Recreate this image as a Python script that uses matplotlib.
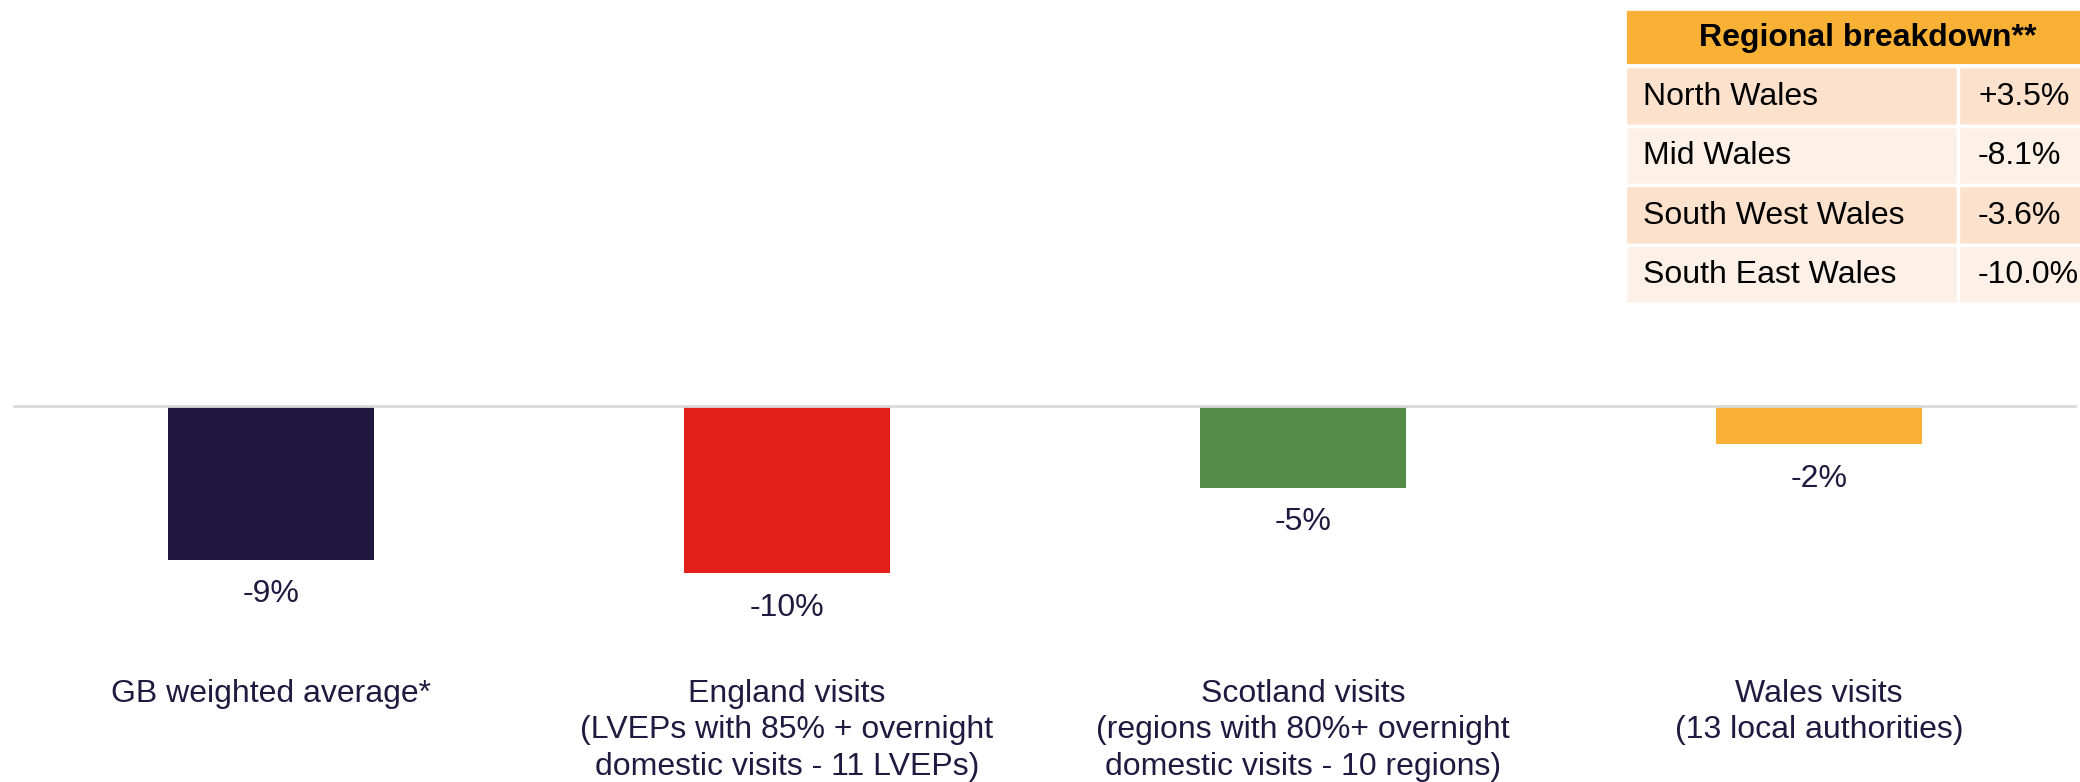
import matplotlib.pyplot as plt
from matplotlib.patches import Rectangle

plt.rcParams['font.family'] = ['Liberation Sans', 'DejaVu Sans']

# data
categories = ['GB weighted average*',
              'England visits\n(LVEPs with 85% + overnight\ndomestic visits - 11 LVEPs)',
              'Scotland visits\n(regions with 80%+ overnight\ndomestic visits - 10 regions)',
              'Wales visits\n(13 local authorities)']
changes = [-9.2, -10.0, -4.9, -2.3]
bar_colors = ['#201840', '#E31F1A', '#548B46', '#F8B135']

regions = ['North Wales', 'Mid Wales', 'South West Wales', 'South East Wales']
region_changes = ['+3.5%', '-8.1%', '-3.6%', '-10.0%']
table_title = 'Regional breakdown**'

W, H = 2080, 782
navy = '#201A40'
fs = 23

fig = plt.figure(figsize=(W / 100, H / 100), dpi=100)
ax = fig.add_axes([13 / W, 0, (2077 - 13) / W, 1])
ax.set_xlim(-0.5, 3.5)
ax.set_ylim(-22.5, 24.3)
ax.axis('off')

x = range(len(categories))
bars = ax.bar(x, changes, width=0.4, color=bar_colors)
ax.axhline(0, color='#D9D9D9', lw=2, zorder=3)

ax.bar_label(bars, labels=['%.0f%%' % v for v in changes], padding=14,
             fontsize=fs, color=navy)

for i, lab in enumerate(categories):
    ax.text(i, -16.35, lab, ha='center', va='top', fontsize=fs, color=navy,
            linespacing=1.27)

# regional breakdown table (figure pixel coords, y from top)
def px(xp, yp):
    return xp / W, 1 - yp / H

x0, x1, x2 = 1625, 1958, 2110
head_top, head_h = 9, 56
row_h = 59.5

fig.add_artist(Rectangle(px(x0, head_top + head_h), (x2 - x0) / W, head_h / H,
                         transform=fig.transFigure, facecolor='#F8B135',
                         edgecolor='white', lw=2))
fig.text((x0 + x2) / 2 / W, 1 - (head_top + head_h / 2 + 1) / H, table_title,
         ha='center', va='center', fontsize=fs, fontweight='bold', color='black')

row_colors = ['#FCE2CC', '#FDF0E7']
for j, (name, val) in enumerate(zip(regions, region_changes)):
    top = head_top + head_h + 1 + j * row_h
    for (a, b) in [(x0, x1), (x1, x2)]:
        fig.add_artist(Rectangle(px(a, top + row_h), (b - a) / W, row_h / H,
                                 transform=fig.transFigure,
                                 facecolor=row_colors[j % 2], edgecolor='white', lw=2.5))
    yc = 1 - (top + row_h / 2 + 1) / H
    fig.text((x0 + 18) / W, yc, name, ha='left', va='center', fontsize=fs, color='black')
    fig.text((x1 + 20) / W, yc, val, ha='left', va='center', fontsize=fs, color='black')

fig.savefig('out.png', dpi=100)
